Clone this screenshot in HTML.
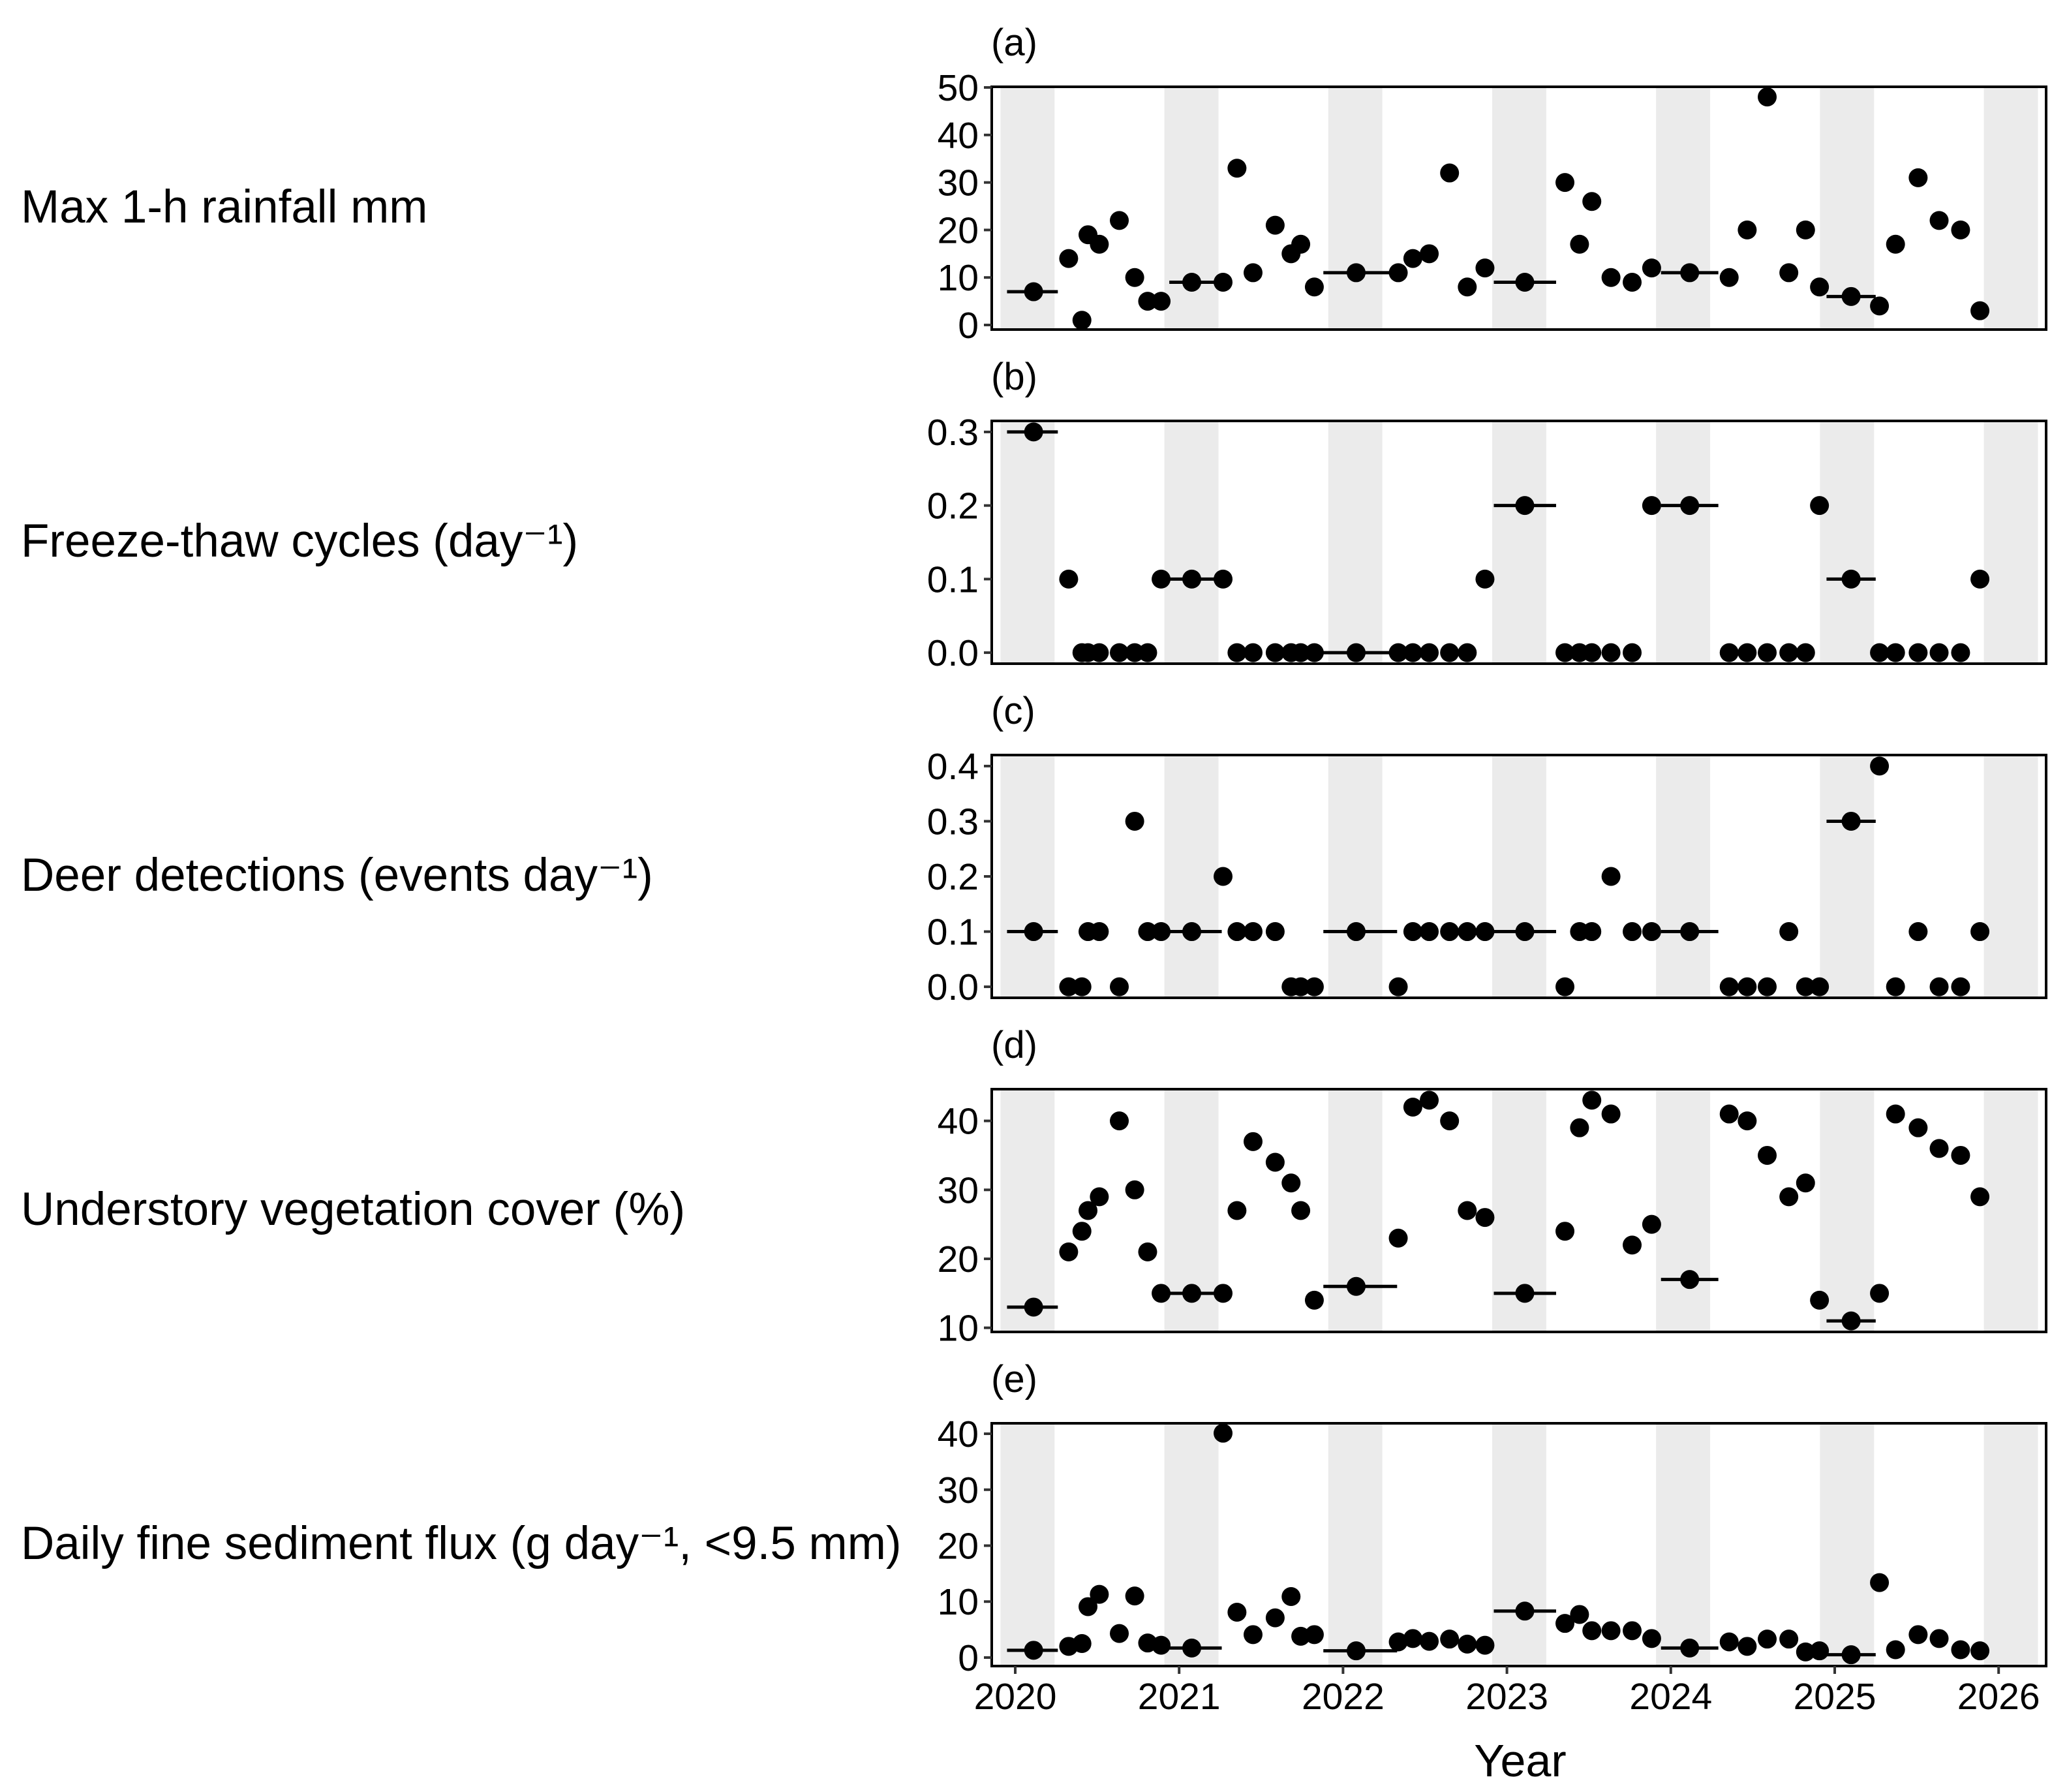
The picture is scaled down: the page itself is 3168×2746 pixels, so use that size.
<!DOCTYPE html>
<html><head><meta charset="utf-8"><style>
html,body{margin:0;padding:0;background:#fff}
svg{display:block}
text{font-family:"Liberation Sans",Arial,sans-serif;fill:#000}
</style></head><body>
<svg id="chart" width="3168" height="2746" viewBox="0 0 3168 2746" xmlns="http://www.w3.org/2000/svg"></svg>
<script>
// ---- data ----
const dates = [2020.112,2020.326,2020.407,2020.444,2020.513,2020.635,2020.729,2020.808,2020.890,
2021.077,2021.268,2021.353,2021.451,2021.586,2021.683,2021.742,2021.825,
2022.080,2022.337,2022.426,2022.526,2022.650,2022.758,2022.866,
2023.109,2023.354,2023.443,2023.518,2023.635,2023.764,2023.883,
2024.115,2024.356,2024.466,2024.588,2024.720,2024.822,2024.907,
2025.100,2025.273,2025.371,2025.509,2025.637,2025.768,2025.886];
const winterIdx = [0,9,17,24,31,38];
const winterStart = [2019.95,2020.94,2021.88,2022.92,2023.94,2024.95];
const winterEnd = [2020.26,2021.26,2022.33,2023.30,2024.29,2025.25];
const rainfall = [7,14,1,19,17,22,10,5,5, 9,9,33,11,21,15,17,8, 11,11,14,15,32,8,12, 9,30,17,26,10,9,12, 11,10,20,48,11,20,8, 6,4,17,31,22,20,3];
const freezeThaw = [0.3,0.1,0,0,0,0,0,0,0.1, 0.1,0.1,0,0,0,0,0,0, 0,0,0,0,0,0,0.1, 0.2,0,0,0,0,0,0.2, 0.2,0,0,0,0,0,0.2, 0.1,0,0,0,0,0,0.1];
const deer = [0.1,0,0,0.1,0.1,0,0.3,0.1,0.1, 0.1,0.2,0.1,0.1,0.1,0,0,0, 0.1,0,0.1,0.1,0.1,0.1,0.1, 0.1,0,0.1,0.1,0.2,0.1,0.1, 0.1,0,0,0,0.1,0,0, 0.3,0.4,0,0.1,0,0,0.1];
const vegetation = [13,21,24,27,29,40,30,21,15, 15,15,27,37,34,31,27,14, 16,23,42,43,40,27,26, 15,24,39,43,41,22,25, 17,41,40,35,29,31,14, 11,15,41,39,36,35,29];
const sediment = [1.3,2.0,2.5,9.1,11.3,4.3,11.0,2.6,2.2, 1.7,40.1,8.1,4.1,7.1,10.9,3.8,4.1, 1.2,2.8,3.4,2.9,3.3,2.4,2.2, 8.3,6.1,7.7,4.8,4.8,4.8,3.4, 1.7,2.8,2.0,3.3,3.3,1.0,1.2, 0.5,13.4,1.4,4.1,3.4,1.4,1.2];
const panelLetters = ["(a)","(b)","(c)","(d)","(e)"];
const panelTitles = ["Max 1-h rainfall mm","Freeze-thaw cycles (day\u207B\u00B9)","Deer detections (events day\u207B\u00B9)","Understory vegetation cover (%)","Daily fine sediment flux (g day\u207B\u00B9, <9.5 mm)"];
const yTicksA = [0,10,20,30,40,50];
const yTicksB = [0.0,0.1,0.2,0.3];
const yTicksC = [0.0,0.1,0.2,0.3,0.4];
const yTicksD = [10,20,30,40];
const yTicksE = [0,10,20,30,40];
const yearTicks = [2020,2021,2022,2023,2024,2025,2026];
const bandYears = [2020,2021,2022,2023,2024,2025,2026];

const series = [rainfall,freezeThaw,deer,vegetation,sediment];
const tickSets = [yTicksA,yTicksB,yTicksC,yTicksD,yTicksE];
const domains = [[-0.96,50.14],[-0.015,0.315],[-0.02,0.42],[9.4,44.6],[-1.52,41.87]];
const decimals = [0,1,1,0,0];

// ---- layout ----
const NS="http://www.w3.org/2000/svg";
const svg=document.getElementById('chart');
const PL=1520, PR=3136, PH=372, TOP0=133, STEP=512;
function xs(v){return 1556+(v-2020)*251.2;}
function mk(tag,attrs,parent){const e=document.createElementNS(NS,tag);for(const k in attrs)e.setAttribute(k,attrs[k]);(parent||svg).appendChild(e);return e;}

for(let p=0;p<5;p++){
  const top=TOP0+p*STEP, bot=top+PH;
  const [lo,hi]=domains[p];
  const ys=v=>bot-(v-lo)/(hi-lo)*PH;
  const g=mk('g',{});
  
  
  const clipId='clip'+p;
  const cp=mk('clipPath',{id:clipId},g);
  mk('rect',{x:PL,y:top,width:PR-PL,height:PH},cp);
  const inner=mk('g',{'clip-path':'url(#'+clipId+')'},g);
  bandYears.forEach(y=>{
    const r=mk('rect',{x:xs(y-0.09),y:top,width:xs(y+0.24)-xs(y-0.09),height:PH,fill:'#ebebeb'},inner);
    
    
  });
  const vals=series[p];
  winterIdx.forEach((idx,k)=>{
    const l=mk('line',{x1:xs(winterStart[k]),x2:xs(winterEnd[k]),y1:ys(vals[idx]),y2:ys(vals[idx]),stroke:'#000','stroke-width':5},inner);
    
    
  });
  vals.forEach((v,i)=>{
    const c=mk('circle',{cx:xs(dates[i]),cy:ys(v),r:14.5,fill:'#000'},inner);
    
    
  });
  const fr=mk('rect',{x:PL,y:top,width:PR-PL,height:PH,fill:'none',stroke:'#000','stroke-width':4},g);
  
  
  tickSets[p].forEach(t=>{
    mk('line',{x1:PL-12,x2:PL,y1:ys(t),y2:ys(t),stroke:'#333','stroke-width':4},g);
    const tx=mk('text',{x:PL-20,y:ys(t)+20,'text-anchor':'end','font-size':57},g);
    tx.textContent=t.toFixed(decimals[p]);
    
    
  });
  const lt=mk('text',{x:1519,y:top-48,'font-size':58},g);
  lt.textContent=panelLetters[p];
  
  
  const tt=mk('text',{x:32,y:top+PH/2+22,'font-size':71},g);
  tt.textContent=panelTitles[p];
  
  
}
const lastBot=TOP0+4*STEP+PH;
yearTicks.forEach(y=>{
  mk('line',{x1:xs(y),x2:xs(y),y1:lastBot,y2:lastBot+12,stroke:'#333','stroke-width':4});
  const t=mk('text',{x:xs(y),y:lastBot+66,'text-anchor':'middle','font-size':57});
  t.textContent=y;
  
  
});
const xt=mk('text',{x:2330,y:2722,'text-anchor':'middle','font-size':70});
xt.textContent='Year';


</script>
</body></html>
